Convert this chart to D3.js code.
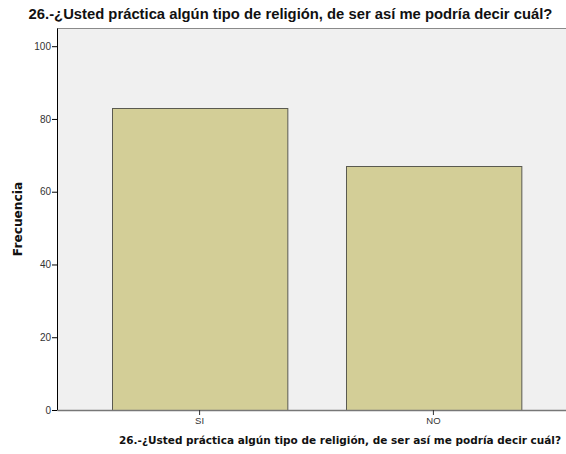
<!DOCTYPE html>
<html>
<head>
<meta charset="utf-8">
<script src="https://cdn.jsdelivr.net/npm/d3@7"></script>
<style>
  body { margin: 0; background: #fff; }
  svg { display: block; font-family: "Liberation Sans", Arial, sans-serif; }
</style>
</head>
<body>
<div id="box-div"></div>
<script>
const titleText = '26.-¿Usted práctica algún tipo de religión, de ser así me podría decir cuál?'
const categories = ['SI', 'NO']
const frecuencia = [83, 67]
const yTicks = [0, 20, 40, 60, 80, 100]

const dms = {
    width: 566,
    height: 454,
    margin: { top: 28, right: 0, bottom: 44, left: 57 }
}
dms.chartWidth = dms.width - dms.margin.left - dms.margin.right
dms.chartHeight = dms.height - dms.margin.top - dms.margin.bottom

const box = d3.select('#box-div').append('svg')
    .attr('width', dms.width)
    .attr('height', dms.height)

const content = box.append('g')
    .attr('transform', `translate(${dms.margin.left}, ${dms.margin.top})`)

// escalas
const xScale = d3.scaleBand()
    .domain(categories)
    .range([0, 519])
    .paddingInner(0.25)
    .paddingOuter(0.235)

const yScale = d3.scaleLinear()
    .domain([0, 105])
    .range([dms.chartHeight, 0])

// fondo
content.append('rect')
    .attr('x', 0)
    .attr('y', 0)
    .attr('width', dms.chartWidth)
    .attr('height', dms.chartHeight)
    .attr('fill', '#f0f0f0')
content.append('line')
    .attr('x1', 0).attr('x2', dms.chartWidth)
    .attr('y1', 0.5).attr('y2', 0.5)
    .attr('stroke', '#8a8a8a')

// barras
content.selectAll('.bar')
    .data(frecuencia)
    .enter()
    .append('rect')
    .attr('class', 'bar')
    .attr('x', (d, i) => Math.round(xScale(categories[i])) + 0.5)
    .attr('y', d => Math.round(yScale(d)) + 0.5)
    .attr('width', xScale.bandwidth())
    .attr('height', d => dms.chartHeight - Math.round(yScale(d)))
    .attr('fill', '#d3ce97')
    .attr('stroke', '#5a5a50')
    .attr('stroke-width', 1)

// eje y
const yAxis = d3.axisLeft(yScale)
    .tickValues(yTicks)
    .tickSize(5)
    .tickPadding(1)
    .tickSizeOuter(0)
const gy = content.append('g')
    .attr('class', 'axis-y')
    .call(yAxis)
gy.select('.domain').attr('stroke', '#000')
gy.selectAll('.tick line').attr('stroke', '#000')
gy.selectAll('.tick text').attr('fill', '#333').style('font-size', '10px')

// eje x
const xAxis = d3.axisBottom(xScale)
    .tickSize(5)
    .tickPadding(2)
    .tickSizeOuter(0)
const gx = content.append('g')
    .attr('class', 'axis-x')
    .attr('transform', `translate(0, ${dms.chartHeight})`)
    .call(xAxis)
gx.select('.domain').attr('stroke', '#777').attr('stroke-width', 1.5)
gx.selectAll('.tick line').attr('stroke', '#333')
gx.selectAll('.tick text').attr('fill', '#333').style('font-size', '9.5px')

// titulo
box.append('text')
    .attr('x', 290.5)
    .attr('y', 19)
    .attr('text-anchor', 'middle')
    .style('font-size', '14.8px')
    .style('font-weight', 'bold')
    .attr('fill', '#111')
    .text(titleText)

// titulo eje x
box.append('text')
    .attr('x', 340)
    .attr('y', 444)
    .attr('text-anchor', 'middle')
    .style('font-family', '"DejaVu Sans", sans-serif')
    .style('font-size', '10.5px')
    .style('font-weight', 'bold')
    .attr('fill', '#111')
    .text(titleText)

// titulo eje y
box.append('text')
    .attr('transform', 'translate(21.5, 219) rotate(-90)')
    .attr('text-anchor', 'middle')
    .style('font-family', '"DejaVu Sans", sans-serif')
    .style('font-size', '12.2px')
    .style('font-weight', 'bold')
    .attr('fill', '#111')
    .text('Frecuencia')
</script>
</body>
</html>
